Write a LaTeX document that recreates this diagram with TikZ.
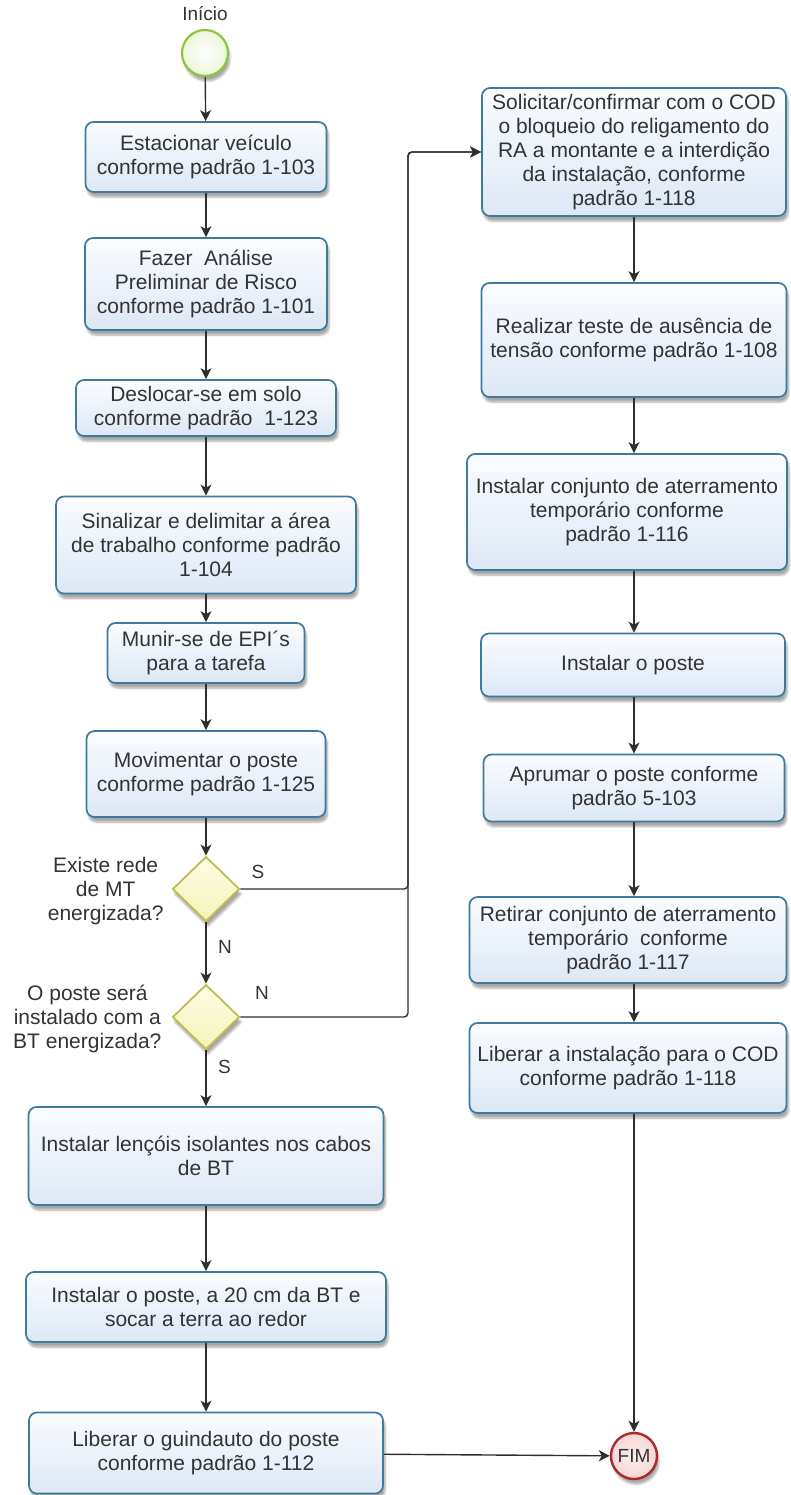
\documentclass[tikz,border=0pt]{standalone}
\usepackage{fontspec}
\setmainfont{Liberation Sans}
\usetikzlibrary{arrows.meta,shapes.geometric,shadows.blur,calc}

\definecolor{boxline}{HTML}{3D7A9E}
\definecolor{boxtop}{HTML}{FAFCFF}
\definecolor{boxbot}{HTML}{DDE8F5}
\definecolor{txt}{HTML}{333333}
\definecolor{linec}{HTML}{2E2E2E}
\definecolor{decline}{HTML}{BDBD4E}
\definecolor{dectop}{HTML}{FDFDE6}
\definecolor{decbot}{HTML}{F3F3B8}
\definecolor{startline}{HTML}{8CC63F}
\definecolor{startfill}{HTML}{F1F9DF}
\definecolor{endline}{HTML}{A82A2C}
\definecolor{endfill}{HTML}{F7D6D6}

\tikzset{
  softshadow/.style={blur shadow={shadow xshift=2pt, shadow yshift=-5pt,
      shadow blur steps=6, shadow opacity=35}},
  stepbox/.style={draw=boxline, line width=1.7pt, rounded corners=8pt,
      top color=boxtop, bottom color=boxbot, align=center, text=txt,
      font=\fontsize{21}{24}\selectfont, inner sep=0pt, softshadow},
  decision/.style={diamond, draw=decline, line width=1.8pt,
      top color=dectop, bottom color=decbot, inner sep=0pt,
      minimum width=67pt, minimum height=65pt, softshadow},
  declabel/.style={align=center, text=txt, font=\fontsize{21}{24}\selectfont},
  branch/.style={text=txt, font=\fontsize{19}{22}\selectfont},
  startev/.style={circle, draw=startline, line width=2.2pt,
      inner color=white, outer color=startfill!80!startline!60,
      minimum size=46pt, inner sep=0pt, softshadow},
  endev/.style={circle, draw=endline, line width=2.4pt,
      inner color=endfill!40, outer color=endfill,
      minimum size=46pt, inner sep=0pt, text=txt,
      font=\fontsize{19}{20}\selectfont, softshadow},
  flow/.style={draw=linec, line width=1.4pt,
      -{Stealth[length=11pt, width=11pt, inset=3pt]}},
}

\begin{document}
\begin{tikzpicture}[x=1pt, y=-1pt]
\useasboundingbox (0,0) rectangle (790,1495);

% start event
\node[text=txt, font=\fontsize{19}{20}\selectfont] (startlbl) at (205,14) {Início};
\node[startev] (start) at (205,53) {};

% left column
\node[stepbox, minimum width=241pt, minimum height=70pt] (b1) at (206,157)
  {Estacionar veículo\\conforme padrão 1-103};
\node[stepbox, minimum width=242pt, minimum height=92pt] (b2) at (206,284)
  {Fazer~ Análise\\Preliminar de Risco\\conforme padrão 1-101};
\node[stepbox, minimum width=260pt, minimum height=56pt] (b3) at (206,408)
  {Deslocar-se em solo\\conforme padrão~ 1-123};
\node[stepbox, minimum width=300pt, minimum height=97pt] (b4) at (206,545)
  {Sinalizar e delimitar a área\\de trabalho conforme padrão\\1-104};
\node[stepbox, minimum width=197pt, minimum height=60pt] (b5) at (206,653)
  {Munir-se de EPI´s\\para a tarefa};
\node[stepbox, minimum width=239pt, minimum height=86pt] (b6) at (206,774)
  {Movimentar o poste\\conforme padrão 1-125};

\node[decision] (d1) at (206,889) {};
\node[declabel, anchor=east] (d1lbl) at (167,891) {Existe rede\\de MT\\energizada?};
\node[decision] (d2) at (206,1017) {};
\node[declabel, anchor=east] (d2lbl) at (165,1019) {O poste será\\instalado com a\\BT energizada?};

\node[stepbox, minimum width=355pt, minimum height=98pt] (b7) at (206,1156)
  {Instalar lençóis isolantes nos cabos\\de BT};
\node[stepbox, minimum width=360pt, minimum height=70pt] (b8) at (206,1307)
  {Instalar o poste, a 20 cm da BT e\\socar a terra ao redor};
\node[stepbox, minimum width=354pt, minimum height=81pt] (b9) at (206,1453)
  {Liberar o guindauto do poste\\conforme padrão 1-112};

% right column
\coordinate (rx) at (634,0);
\coordinate (jx) at (408,0);
\node[stepbox, minimum width=304pt, minimum height=128pt] (r1) at (634,152)
  {Solicitar/confirmar com o COD\\o bloqueio do religamento do\\RA a montante e a interdição\\da instalação, conforme\\padrão 1-118};
\node[stepbox, minimum width=305pt, minimum height=114pt] (r2) at (634,340)
  {Realizar teste de ausência de\\tensão conforme padrão 1-108};
\node[stepbox, minimum width=320pt, minimum height=116pt] (r3) at (627,512)
  {Instalar conjunto de aterramento\\temporário conforme\\padrão 1-116};
\node[stepbox, minimum width=304pt, minimum height=63pt] (r4) at (633,665)
  {Instalar o poste};
\node[stepbox, minimum width=301pt, minimum height=67pt] (r5) at (634,788)
  {Aprumar o poste conforme\\padrão 5-103};
\node[stepbox, minimum width=317pt, minimum height=86pt] (r6) at (628,940)
  {Retirar conjunto de aterramento\\temporário~ conforme\\padrão 1-117};
\node[stepbox, minimum width=317pt, minimum height=90pt] (r7) at (628,1068)
  {Liberar a instalação para o COD\\conforme padrão 1-118};

\node[endev] (fim) at (634,1456) {FIM};

% connectors, left column
\draw[flow] (start) -- (b1);
\draw[flow] (b1) -- (b2);
\draw[flow] (b2) -- (b3);
\draw[flow] (b3) -- (b4);
\draw[flow] (b4) -- (b5);
\draw[flow] (b5) -- (b6);
\draw[flow] (b6) -- (d1);
\draw[flow] (d1) -- node[branch, pos=0.4, right=8pt] {N} (d2);
\draw[flow] (d2) -- node[branch, pos=0.3, right=8pt] {S} (b7);
\draw[flow] (b7) -- (b8);
\draw[flow] (b8) -- (b9);
\draw[flow] (b9) -- (fim);

% branches towards the right column
\draw[flow, rounded corners=4pt] (d1.east) -- (d1.east -| jx) |- (r1.west);
\draw[flow, rounded corners=4pt] (d2.east) -- (d2.east -| jx) |- (r1.west);
\node[branch] (s1) at (258,872) {S};
\node[branch] (n2) at (262,993) {N};

% connectors, right column
\draw[flow] (r1.south -| rx) -- (r2.north -| rx);
\draw[flow] (r2.south -| rx) -- (r3.north -| rx);
\draw[flow] (r3.south -| rx) -- (r4.north -| rx);
\draw[flow] (r4.south -| rx) -- (r5.north -| rx);
\draw[flow] (r5.south -| rx) -- (r6.north -| rx);
\draw[flow] (r6.south -| rx) -- (r7.north -| rx);
\draw[flow] (r7.south -| rx) -- (fim);
\end{tikzpicture}
\end{document}
